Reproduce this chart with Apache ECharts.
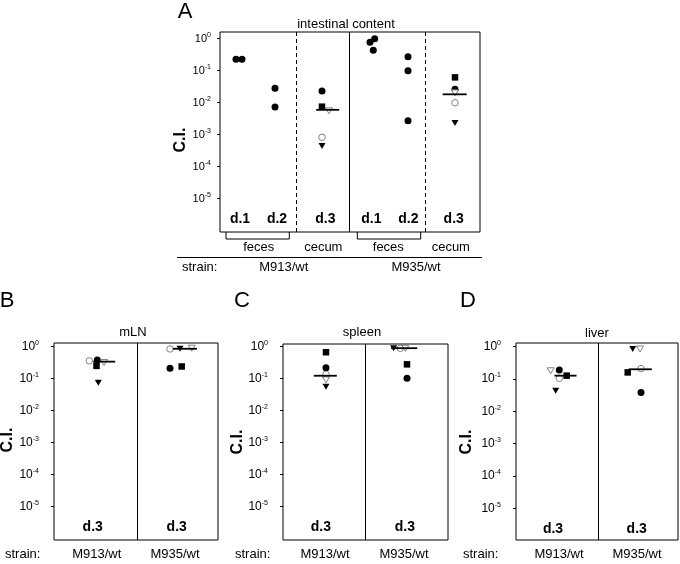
<!DOCTYPE html>
<html><head><meta charset="utf-8">
<script src="https://cdn.jsdelivr.net/npm/echarts@6/dist/echarts.min.js"></script>
<style>html,body{margin:0;padding:0;background:#fff}#c{width:680px;height:564px}</style>
</head><body><div id="c"></div>
<script>
// ---------------- data ----------------
const strains = ['M913/wt', 'M935/wt'];
const mice = ['filled circle', 'filled square', 'filled triangle', 'open circle', 'open triangle'];
const yTickExponents = [0, -1, -2, -3, -4, -5];
const intestinalDays = ['d.1', 'd.2', 'd.3', 'd.1', 'd.2', 'd.3'];
const intestinalSites = ['feces', 'cecum', 'feces', 'cecum'];
const organDays = ['d.3', 'd.3'];
const panelTitles = ['intestinal content', 'mLN', 'spleen', 'liver'];
const panelLetters = ['A', 'B', 'C', 'D'];

// Panel A, feces (all filled circles)
const feces_M913_d1 = [0.224, 0.224];
const feces_M913_d2 = [0.028, 0.0072];
const feces_M935_d1 = [0.76, 0.98, 0.43];
const feces_M935_d2 = [0.27, 0.099, 0.0027];
// day 3, one value per mouse, order as in `mice`
const cecum_M913 = [0.023, 0.0074, 0.00044, 0.00082, 0.0055];
const cecum_M935 = [0.026, 0.061, 0.0023, 0.0098, 0.020];
const cecumMedian = [0.0059, 0.018];
const mLN_M913 = [0.38, 0.25, 0.074, 0.36, 0.32];
const mLN_M935 = [0.21, 0.24, 0.86, 0.85, 0.90];
const mLNMedian = [0.34, 0.86];
const spleen_M913 = [0.22, 0.67, 0.056, 0.136, 0.091];
const spleen_M935 = [0.102, 0.28, 0.89, 0.89, 0.89];
const spleenMedian = [0.123, 0.90];
const liver_M913 = [0.19, 0.127, 0.043, 0.105, 0.18];
const liver_M935 = [0.038, 0.16, 0.85, 0.21, 0.85];
const liverMedian = [0.127, 0.20];

// ---------------- layout (positions / sizes, not data) ----------------
const FONT = '"Liberation Sans", Arial, sans-serif';
const panels = [
  { left: 220, top: 32, width: 260, height: 200, yMin: -6.047, yMax: 0.203, fs: 11,
    dividers: [[76, 'dashed'], [129, 'solid'], [205, 'dashed']],
    dayX: [20, 57, 105.3, 151.3, 188.3, 233.7] },
  { left: 54, top: 343, width: 164, height: 197, yMin: -6.06, yMax: 0.116, fs: 12,
    dividers: [[83, 'solid']], dayX: [38.7, 122.7],
    jit: [[43.3, 42.5, 44.3, 35.3, 50], [116, 127.7, 126, 116, 137.7]],
    med: [[50.2, 22], [130.9, 24]] },
  { left: 283, top: 344, width: 165, height: 196, yMin: -6.06, yMax: 0.085, fs: 12,
    dividers: [[82.7, 'solid']], dayX: [37.8, 121.8],
    jit: [[43, 43, 43, 43, 43], [124, 124, 110.6, 117.3, 122.3]],
    med: [[42.3, 23], [121.2, 26]] },
  { left: 516, top: 343, width: 162, height: 197, yMin: -5.985, yMax: 0.115, fs: 12,
    dividers: [[82, 'solid']], dayX: [37, 120.7],
    jit: [[43.3, 50.7, 39.7, 43.3, 34.7], [125, 111.7, 116.7, 125, 124]],
    med: [[49.5, 22], [124.3, 23]] }
];
const A_fecesX = { m913d1: [16, 22], m913d2: [55, 55], m935d1: [150, 154.7, 153.3], m935d2: [188, 188, 188] };
const A_cecumJit = [[102, 102, 102, 102, 109], [235, 235, 235, 235, 235]];
const A_cecumMed = [[107.7, 23], [234.7, 24]];

const markerStyle = [
  { symbol: 'circle', symbolSize: 7, symbolRotate: 0, itemStyle: { color: '#000', opacity: 1 } },
  { symbol: 'rect', symbolSize: 6.5, symbolRotate: 0, itemStyle: { color: '#000', opacity: 1 } },
  { symbol: 'triangle', symbolSize: [7, 6], symbolRotate: 180, itemStyle: { color: '#000', opacity: 1 } },
  { symbol: 'circle', symbolSize: 6.5, symbolRotate: 0, itemStyle: { color: '#fff', borderColor: '#666', borderWidth: 0.8, opacity: 1 } },
  { symbol: 'triangle', symbolSize: [7, 6], symbolRotate: 180, itemStyle: { color: '#fff', borderColor: '#666', borderWidth: 0.8, opacity: 1 } }
];

// ---------------- build option ----------------
const grids = [], xAxes = [], yAxes = [], series = [];
panels.forEach((p, i) => {
  grids.push({ left: p.left, top: p.top, width: p.width, height: p.height, show: true,
    borderColor: '#000', borderWidth: 1, backgroundColor: 'transparent' });
  xAxes.push({ type: 'value', gridIndex: i, min: 0, max: p.width, show: false });
  yAxes.push({ type: 'log', logBase: 10, gridIndex: i, min: Math.pow(10, p.yMin), max: Math.pow(10, p.yMax),
    axisLine: { show: false }, splitLine: { show: false },
    axisTick: { show: true, inside: false, length: 3, lineStyle: { color: '#000' },
      customValues: yTickExponents.map(e => Math.pow(10, e)) },
    axisLabel: { show: true, margin: i === 0 ? 9 : 15, color: '#000', fontFamily: FONT,
      customValues: yTickExponents.map(e => Math.pow(10, e)),
      formatter: v => '{b|10}{s|' + Math.round(Math.log10(v)) + '}',
      rich: { b: { fontSize: p.fs, fontFamily: FONT, color: '#000', lineHeight: 14 },
              s: { fontSize: 7, fontFamily: FONT, color: '#000', lineHeight: 7, verticalAlign: 'top' } } } });
  const labelNames = i === 0 ? intestinalDays : organDays;
  series.push({ type: 'scatter', xAxisIndex: i, yAxisIndex: i, symbolSize: 0, silent: true, z: 1,
    itemStyle: { opacity: 1 },
    data: p.dayX.map((x, k) => ({ value: [x, Math.pow(10, -5.65)], name: labelNames[k] })),
    label: { show: true, position: 'inside', formatter: d => d.name, color: '#000',
      fontFamily: FONT, fontWeight: 'bold', fontSize: 14 },
    markLine: { symbol: 'none', silent: true, label: { show: false },
      data: p.dividers.map(([x, t]) => ({ xAxis: x,
        lineStyle: { color: '#000', width: 1, opacity: 1, type: t === 'dashed' ? [4, 3] : 'solid' } })) } });
});

function miceSeries(gi, values, jit) {
  values.forEach((v, m) => {
    series.push(Object.assign({ type: 'scatter', name: mice[m], xAxisIndex: gi, yAxisIndex: gi, z: 3,
      data: [[jit[m], v]] }, markerStyle[m]));
  });
}
function medianSeries(gi, meds, medLayout) {
  meds.forEach((v, s) => {
    series.push({ type: 'scatter', name: 'median', xAxisIndex: gi, yAxisIndex: gi, z: 4,
      symbol: 'rect', symbolSize: [medLayout[s][1], 1.8], itemStyle: { color: '#000', opacity: 1 },
      data: [[medLayout[s][0], v]] });
  });
}
const fecesSets = [[feces_M913_d1, A_fecesX.m913d1], [feces_M913_d2, A_fecesX.m913d2],
                   [feces_M935_d1, A_fecesX.m935d1], [feces_M935_d2, A_fecesX.m935d2]];
fecesSets.forEach(([vals, xs]) => {
  series.push(Object.assign({ type: 'scatter', name: 'feces', xAxisIndex: 0, yAxisIndex: 0, z: 3,
    data: vals.map((v, k) => [xs[k], v]) }, markerStyle[0]));
});
miceSeries(0, cecum_M913, A_cecumJit[0]);
miceSeries(0, cecum_M935, A_cecumJit[1]);
medianSeries(0, cecumMedian, A_cecumMed);
const organSets = [[mLN_M913, mLN_M935, mLNMedian], [spleen_M913, spleen_M935, spleenMedian], [liver_M913, liver_M935, liverMedian]];
organSets.forEach(([a, b, med], k) => {
  const gi = k + 1, p = panels[gi];
  miceSeries(gi, a, p.jit[0]);
  miceSeries(gi, b, p.jit[1]);
  medianSeries(gi, med, p.med);
});

// ---------------- annotations ----------------
const T = (text, x, y, o) => Object.assign({ type: 'text', x, y, silent: true,
  style: Object.assign({ text, fill: '#000', font: '13px ' + FONT, align: 'center', verticalAlign: 'middle' }, (o && o.style) || {}) },
  o ? { rotation: o.rotation || 0 } : {});
const graphic = [];
[[185, 12], [7, 301], [242, 301], [468, 301]].forEach(([x, y], i) =>
  graphic.push(T(panelLetters[i], x, y, { style: { font: '22px ' + FONT } })));
[[346, 24], [133, 332], [362, 332], [597, 333]].forEach(([x, y], i) => graphic.push(T(panelTitles[i], x, y)));
[[181, 140], [8, 440], [238, 442], [467, 442]].forEach(([x, y]) =>
  graphic.push(T('C.I.', x, y, { rotation: Math.PI / 2, style: { font: 'bold 16px ' + FONT } })));
[[226, 289.3], [357.3, 420.7]].forEach(([x1, x2]) => graphic.push({ type: 'polyline', silent: true,
  shape: { points: [[x1, 232], [x1, 239], [x2, 239], [x2, 232]] }, style: { stroke: '#000', lineWidth: 1, fill: null } }));
[258.7, 323.3, 388.3, 450.8].forEach((x, i) => graphic.push(T(intestinalSites[i], x, 247)));
graphic.push({ type: 'line', silent: true, shape: { x1: 177, y1: 257.5, x2: 482, y2: 257.5 }, style: { stroke: '#000', lineWidth: 1 } });
graphic.push(T('strain:', 182, 267.5, { style: { align: 'left' } }));
graphic.push(T(strains[0], 283.7, 267.5));
graphic.push(T(strains[1], 416, 267.5));
[[5, 96.7, 175], [235, 325, 404], [463, 559, 637]].forEach(([sx, m1, m2]) => {
  graphic.push(T('strain:', sx, 554, { style: { align: 'left' } }));
  graphic.push(T(strains[0], m1, 554));
  graphic.push(T(strains[1], m2, 554));
});

const chart = echarts.init(document.getElementById('c'), null, { renderer: 'canvas' });
chart.setOption({ animation: false, backgroundColor: '#fff', grid: grids, xAxis: xAxes, yAxis: yAxes, series, graphic });
</script></body></html>
